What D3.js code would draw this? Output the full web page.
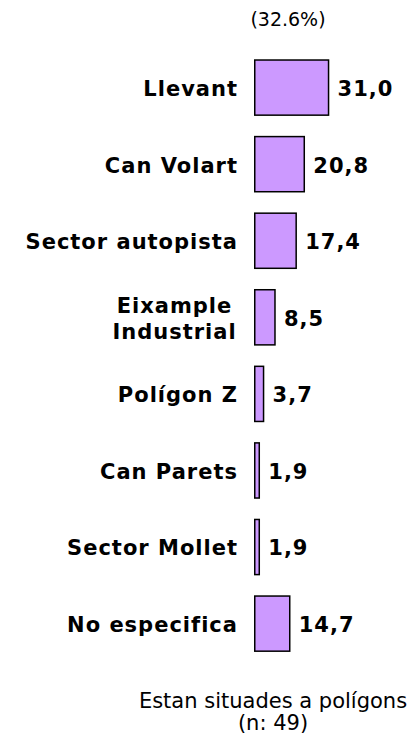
<!DOCTYPE html>
<html>
<head>
<meta charset="utf-8">
<script src="https://cdn.jsdelivr.net/npm/d3@7"></script>
<style>
  body { margin: 0; background: #fff; }
  text { font-family: "DejaVu Sans", Verdana, sans-serif; fill: #000; }
</style>
</head>
<body>
<div id="canvas"></div>
<script>
// polygons where the companies are located (% of n)
const categories = ["Llevant", "Can Volart", "Sector autopista", "Eixample\nIndustrial",
    "Polígon Z", "Can Parets", "Sector Mollet", "No especifica"];
const values = [31.0, 20.8, 17.4, 8.5, 3.7, 1.9, 1.9, 14.7];
const topLabel = "(32.6%)";
const footLines = ["Estan situades a polígons", "(n: 49)"];

const W = 415, H = 737;

const svg = d3.select("#canvas")
    .append("svg")
    .attr("width", W)
    .attr("height", H);

// band scale for the rows
const y = d3.scaleBand()
    .domain(categories)
    .range([49.3, 661.9])
    .paddingInner(0.28)
    .paddingOuter(0.14);

// bar length
const x = d3.scaleLinear()
    .domain([0, 31])
    .range([0, 73.8]);

const x0 = 254.75;

const fmt = v => d3.format(".1f")(v).replace(".", ",");

// bars
svg.selectAll("rect.bar")
    .data(values)
    .enter()
    .append("rect")
    .attr("class", "bar")
    .attr("x", x0)
    .attr("y", (d, i) => y(categories[i]))
    .attr("width", d => x(d))
    .attr("height", y.bandwidth())
    .style("fill", "#cc99ff")
    .style("stroke", "#000")
    .style("stroke-width", 1.5);

// value labels
svg.selectAll("text.val")
    .data(values)
    .enter()
    .append("text")
    .attr("class", "val")
    .attr("x", d => x0 + x(d) + 9)
    .attr("y", (d, i) => y(categories[i]) + y.bandwidth() / 2)
    .attr("dy", "0.4em")
    .style("font-size", "21px")
    .style("font-weight", "bold")
    .style("letter-spacing", "1px")
    .text(d => fmt(d));

// category labels (can be two lines)
const labels = svg.selectAll("text.cat")
    .data(categories)
    .enter()
    .append("text")
    .attr("class", "cat")
    .attr("y", d => y(d) + y.bandwidth() / 2)
    .style("font-size", "21px")
    .style("font-weight", "bold")
    .style("letter-spacing", "1px");

labels.each(function(d) {
    const lines = d.split("\n");
    const t = d3.select(this);
    if (lines.length == 1) {
        t.attr("x", 238).attr("text-anchor", "end").attr("dy", "0.4em").text(d);
    } else {
        t.attr("text-anchor", "middle");
        lines.forEach(function(l, k) {
            t.append("tspan")
                .attr("x", 174.5)
                .attr("dy", k == 0 ? (0.4 * 21 - 13) : 26)
                .text(l);
        });
    }
});

// header
svg.append("text")
    .attr("x", 288)
    .attr("y", 25.5)
    .attr("text-anchor", "middle")
    .style("font-size", "19px")
    .text(topLabel);

// footnote
svg.selectAll("text.foot")
    .data(footLines)
    .enter()
    .append("text")
    .attr("class", "foot")
    .attr("x", 273)
    .attr("y", (d, i) => 708 + i * 22)
    .attr("text-anchor", "middle")
    .style("font-size", "21px")
    .text(d => d);
</script>
</body>
</html>
